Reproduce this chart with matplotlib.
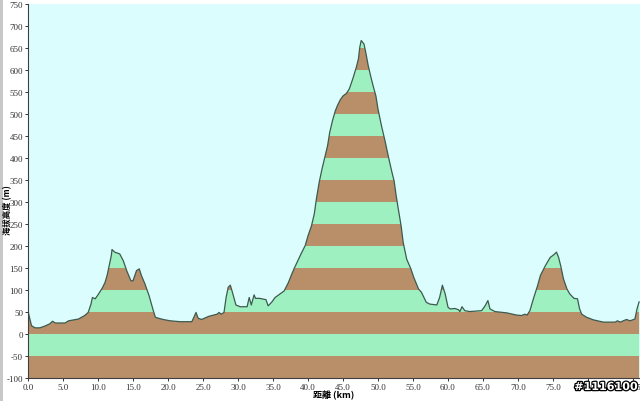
import numpy as np
import matplotlib
matplotlib.use("Agg")
import matplotlib.pyplot as plt
import matplotlib.patheffects as pe
from matplotlib.patches import Rectangle

# distance (km) / elevation (m)
dist_km = [0.0, 0.1, 0.5, 1.0, 1.7, 2.4, 3.1, 3.5, 3.9, 5.3, 5.8, 7.2, 8.1, 8.6,
           9.0, 9.2, 9.6, 10.0, 10.6, 11.0, 11.3, 11.6, 11.9, 12.0, 12.4, 13.1,
           13.6, 14.1, 14.7, 15.0, 15.5, 15.9, 16.2, 16.7, 17.3, 17.9, 18.2,
           18.6, 19.3, 20.3, 21.7, 23.4, 23.7, 24.0, 24.3, 24.8, 25.8, 27.0,
           27.3, 27.6, 28.0, 28.3, 28.6, 28.9, 29.2, 29.7, 30.3, 31.3, 31.6,
           31.9, 32.3, 32.5, 33.1, 34.0, 34.3, 34.8, 35.3, 36.0, 36.6, 37.2,
           37.6, 38.0, 38.5, 39.0, 39.6, 40.0, 40.5, 40.9, 41.2, 41.6, 42.0,
           42.4, 42.8, 43.1, 43.5, 43.9, 44.2, 44.6, 45.0, 45.5, 45.9, 46.4,
           46.9, 47.2, 47.4, 47.6, 47.8, 48.0, 48.3, 48.6, 49.0, 49.3, 49.7,
           50.0, 50.5, 51.0, 51.5, 52.0, 52.3, 52.6, 52.9, 53.3, 53.6, 54.1,
           54.7, 55.1, 55.8, 56.2, 56.9, 57.4, 58.4, 58.8, 59.2, 59.6, 60.0,
           60.3, 61.0, 61.5, 61.7, 62.0, 62.4, 63.1, 64.8, 65.3, 65.7, 66.0,
           66.7, 68.4, 69.8, 70.5, 71.0, 71.3, 71.7, 72.2, 72.8, 73.2, 73.9,
           74.6, 75.1, 75.5, 75.8, 76.1, 76.5, 77.0, 77.4, 78.0, 78.5, 78.8,
           79.1, 79.8, 80.8, 82.2, 83.9, 84.2, 84.6, 85.5, 86.0, 86.7, 87.0,
           87.3]
elev_m = [57, 45, 19, 14, 14, 18, 23, 29, 25, 25, 30, 34, 42, 49,
          68, 83, 80, 89, 104, 117, 133, 155, 178, 192, 186, 182,
          167, 144, 121, 121, 144, 148, 133, 114, 87, 53, 38,
          36, 33, 30, 28, 28, 38, 49, 36, 33, 40, 45,
          49, 45, 49, 83, 106, 111, 95, 66, 62, 62, 83,
          66, 89, 81, 81, 78, 64, 72, 83, 91, 98, 117,
          133, 148, 165, 182, 201, 223, 246, 273, 307, 345, 375,
          402, 428, 458, 485, 507, 519, 532, 541, 547, 557, 580,
          606, 625, 652, 667, 663, 659, 636, 610, 583, 564, 541,
          511, 473, 439, 402, 367, 348, 314, 284, 246, 208, 170,
          148, 129, 102, 95, 72, 68, 66, 83, 111, 91, 61,
          57, 58, 55, 51, 62, 53, 51, 53, 64, 76, 57,
          51, 48, 43, 42, 45, 43, 53, 80, 110, 133, 155,
          174, 180, 186, 174, 155, 125, 102, 91, 81, 80, 57,
          45, 38, 32, 27, 27, 30, 27, 33, 30, 34, 57,
          73]

y_ticks = list(range(-100, 751, 50))
x_ticks = [0, 5, 10, 15, 20, 25, 30, 35, 40, 45, 50, 55, 60, 65, 70, 75, 80, 86.5]
x_labels = ["0.0", "5.0", "10.0", "15.0", "20.0", "25.0", "30.0", "35.0", "40.0",
            "45.0", "50.0", "55.0", "60.0", "65.0", "70.0", "75.0", "80.0", "86.5"]

BG = "#dcfdfd"
GREEN = "#9ff0c0"
BROWN = "#b88f68"
LINE = "#3d5a50"

x = np.array(dist_km)
y = np.array(elev_m, dtype=float)

fig = plt.figure(figsize=(6.4, 4.02), dpi=100)
ax = fig.add_axes([28 / 640, 23 / 402, 612 / 640, 374 / 402])
ax.set_facecolor(BG)

# area under the profile, used to clip the 50 m bands
area = ax.fill_between(x, -100, y, facecolor="none", lw=0)
clip = area.get_paths()[0]
for lo in range(-100, 700, 50):
    col = BROWN if (lo // 50) % 2 == 0 else GREEN
    band = ax.axhspan(lo, lo + 50, color=col, lw=0)
    band.set_clip_path(clip, ax.transData)
ax.plot(x, y, color=LINE, lw=0.9)

ax.set_xlim(0, 612 / 7)
ax.set_ylim(-100, 750)
ax.set_yticks(y_ticks)
ax.set_yticklabels([str(v) for v in y_ticks])
ax.set_xticks(x_ticks)
ax.set_xticklabels(x_labels)
ax.tick_params(labelsize=6.5, length=2.5, width=0.7, pad=1, colors="#333333")
for t in ax.get_xticklabels() + ax.get_yticklabels():
    t.set_fontfamily("Liberation Serif")
for s in ["top", "right"]:
    ax.spines[s].set_visible(False)
for s in ["left", "bottom"]:
    ax.spines[s].set_color("#404040")
    ax.spines[s].set_linewidth(0.8)

fig.text(8 / 640, 0.477, "海拔高度 (m)", rotation=90, ha="center", va="center",
         fontsize=6, fontweight="bold", family=["Noto Sans CJK TC", "DejaVu Sans"])
fig.text(334 / 640, 1 - 396 / 402, "距離 (km)", ha="center", va="center",
         fontsize=6.5, fontweight="bold", family=["Noto Sans CJK TC", "DejaVu Sans"])

wm = fig.text(606 / 640, 1 - 388 / 402, "#1116100", ha="center", va="center",
              fontsize=8, fontweight="bold", color="white")
wm.set_path_effects([pe.withStroke(linewidth=1.8, foreground="black")])

fig.patches.append(Rectangle((0, 0), 3 / 640, 1, transform=fig.transFigure,
                             color="#c8c8c8", lw=0))

fig.savefig("out.png", dpi=100)
